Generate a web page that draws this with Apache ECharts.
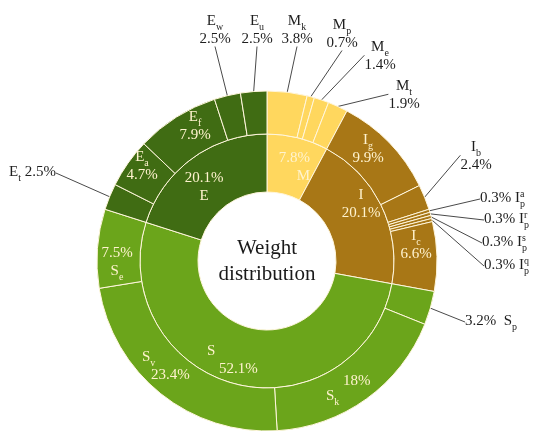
<!DOCTYPE html>
<html><head><meta charset="utf-8">
<script src="https://cdn.jsdelivr.net/npm/echarts@6/dist/echarts.min.js"></script>
<style>html,body{margin:0;padding:0;background:#fff}#c{width:533px;height:431px}</style>
</head><body><div id="c"></div>
<script>
// ---- data ----
const groupNames = ['M', 'I', 'S', 'E'];
const groupValues = [7.8, 20.1, 52.1, 20.1];
const partKeys = ['Mk','Mp','Me','Mt','Ig','Ib','Ipa','Ipr','Ips','Ipq','Ic','Sp','Sk','Sv','Se','Et','Ea','Ef','Ew','Eu'];
const partLetters = ['M','M','M','M','I','I','I','I','I','I','I','S','S','S','S','E','E','E','E','E'];
const partSubs = ['k','p','e','t','g','b','p','p','p','p','c','p','k','v','e','t','a','f','w','u'];
const partSups = ['','','','','','','a','r','s','q','','','','','','','','','',''];
const partValues = [3.8,0.7,1.4,1.9,9.9,2.4,0.3,0.3,0.3,0.3,6.6,3.2,18,23.4,7.5,2.5,4.7,7.9,2.5,2.5];
const centerTitle = ['Weight', 'distribution'];

// ---- styles ----
const FONT = 'Liberation Serif';
const colors = { M: '#FFD75E', I: '#A87716', S: '#6BA51B', E: '#406C13' };
const inColor = '#FFF3CF', outColor = '#1E1E1E';
const CENTER = [267, 261];
const place = {
  M:{x:310,y:167,align:'right'}, I:{x:361,y:204}, S:{x:207,y:360,align:'left'}, E:{x:204,y:187},
  Ig:{x:368,y:149}, Ic:{x:416,y:245}, Sk:{x:326,y:390,align:'left'}, Sv:{x:142,y:366,align:'left'},
  Se:{x:117,y:262}, Ea:{x:142,y:166}, Ef:{x:195,y:126},
  Ew:{x:215,y:30}, Eu:{x:257,y:30}, Mk:{x:297,y:30}, Mp:{x:342,y:34}, Me:{x:380,y:56}, Mt:{x:404,y:95}, Ib:{x:476,y:156},
  Ipa:{x:480,y:198,align:'left'}, Ipr:{x:484,y:219,align:'left'}, Ips:{x:482,y:242,align:'left'}, Ipq:{x:484,y:265,align:'left'},
  Sp:{x:465,y:321,align:'left'}, Et:{x:9,y:172,align:'left'}
};
const kind = {
  Ew:'top', Eu:'top', Mk:'top', Mp:'top', Me:'top', Mt:'top', Ib:'top',
  Ipa:'ip', Ipr:'ip', Ips:'ip', Ipq:'ip', Sp:'sp', Et:'et',
  Ig:'in', Ic:'in', Ea:'in', Ef:'in', Se:'se', Sk:'sk', Sv:'sv'
};

const rich = {
  o:   { fontFamily: FONT, fontSize: 15, color: outColor, lineHeight: 18 },
  os:  { fontFamily: FONT, fontSize: 10, color: outColor, lineHeight: 10, verticalAlign: 'top', padding: [10, 0, 0, 0] },
  osup:{ fontFamily: FONT, fontSize: 10, color: outColor, lineHeight: 10, verticalAlign: 'top', width: 0.1 },
  i:   { fontFamily: FONT, fontSize: 15, color: inColor, lineHeight: 18 },
  is:  { fontFamily: FONT, fontSize: 10, color: inColor, lineHeight: 10, verticalAlign: 'top', padding: [10, 0, 0, 0] },
  t:   { fontFamily: FONT, fontSize: 15, color: inColor, lineHeight: 8 },
  sp:  { width: 17 },
  sp2: { width: 9 },
  sp3: { width: 12 }
};

function pct(v) { return v + '%'; }
function partLabel(k, idx) {
  const L = partLetters[idx], s = partSubs[idx], u = partSups[idx], v = pct(partValues[idx]);
  switch (kind[k]) {
    case 'top': return '{o|' + L + '}{os|' + s + '}\n{o|' + v + '}';
    case 'ip':  return '{o|' + v + ' ' + L + '}{osup|' + u + '}{os|' + s + '}';
    case 'sp':  return '{o|' + v + '  ' + L + '}{os|' + s + '}';
    case 'et':  return '{o|' + L + '}{os|' + s + '}{o| ' + v + '}';
    case 'se':  return '{i|' + v + '}\n{i|' + L + '}{is|' + s + '}';
    case 'sk':  return '{sp|}{t|' + v + '}\n{i|' + L + '}{is|' + s + '}';
    case 'sv':  return '{i|' + L + '}{is|' + s + '}\n{sp2|}{i|' + v + '}';
    default:    return '{i|' + L + '}{is|' + s + '}\n{i|' + v + '}';
  }
}
function groupLabel(idx) {
  const n = groupNames[idx], v = pct(groupValues[idx]);
  if (n === 'M' || n === 'E') return '{i|' + v + '}\n{i|' + n + '}';
  if (n === 'S') return '{i|' + n + '}\n{sp3|}{i|' + v + '}';
  return '{i|' + n + '}\n{i|' + v + '}';
}
const outside = k => ['top','ip','sp','et'].indexOf(kind[k]) >= 0;

const border = { borderColor: '#FFF6DC', borderWidth: 1 };

const chart = echarts.init(document.getElementById('c'), null, { renderer: 'canvas' });
chart.setOption({
  animation: false,
  backgroundColor: '#fff',
  series: [
    {
      type: 'pie', center: CENTER, radius: [0, 69], silent: true,
      label: { position: 'center', fontFamily: FONT, fontSize: 21, lineHeight: 26, color: '#1a1a1a',
               formatter: centerTitle.join('\n') },
      labelLine: { show: false },
      emphasis: { disabled: true },
      data: [{ value: 1, name: 'center', itemStyle: { color: 'rgba(0,0,0,0)' } }]
    },
    {
      type: 'pie', center: CENTER, radius: [69, 127], startAngle: 90, clockwise: true,
      avoidLabelOverlap: false, silent: true,
      label: { position: 'inside', rich: rich, formatter: p => groupLabel(p.dataIndex) },
      labelLine: { show: false },
      labelLayout: p => { const q = place[groupNames[p.dataIndex]]; return { x: q.x, y: q.y, align: q.align || 'center', verticalAlign: 'middle' }; },
      itemStyle: border,
      data: groupNames.map((n, i) => ({ name: n, value: groupValues[i], itemStyle: { color: colors[n] } }))
    },
    {
      type: 'pie', center: CENTER, radius: [127, 170], startAngle: 90, clockwise: true,
      avoidLabelOverlap: false, silent: true, minShowLabelAngle: 0,
      label: { rich: rich, formatter: p => partLabel(partKeys[p.dataIndex], p.dataIndex) },
      labelLine: { show: true, length: 8, length2: 0, smooth: false, lineStyle: { color: '#4a4a4a', width: 1 } },
      labelLayout: p => { const q = place[partKeys[p.dataIndex]]; return { x: q.x, y: q.y, align: q.align || 'center', verticalAlign: 'middle' }; },
      itemStyle: border,
      data: partKeys.map((k, i) => ({
        name: k, value: partValues[i],
        itemStyle: { color: colors[partLetters[i]] },
        label: { position: outside(k) ? 'outside' : 'inside' },
        labelLine: { show: outside(k) }
      }))
    }
  ]
});
</script>
</body></html>
